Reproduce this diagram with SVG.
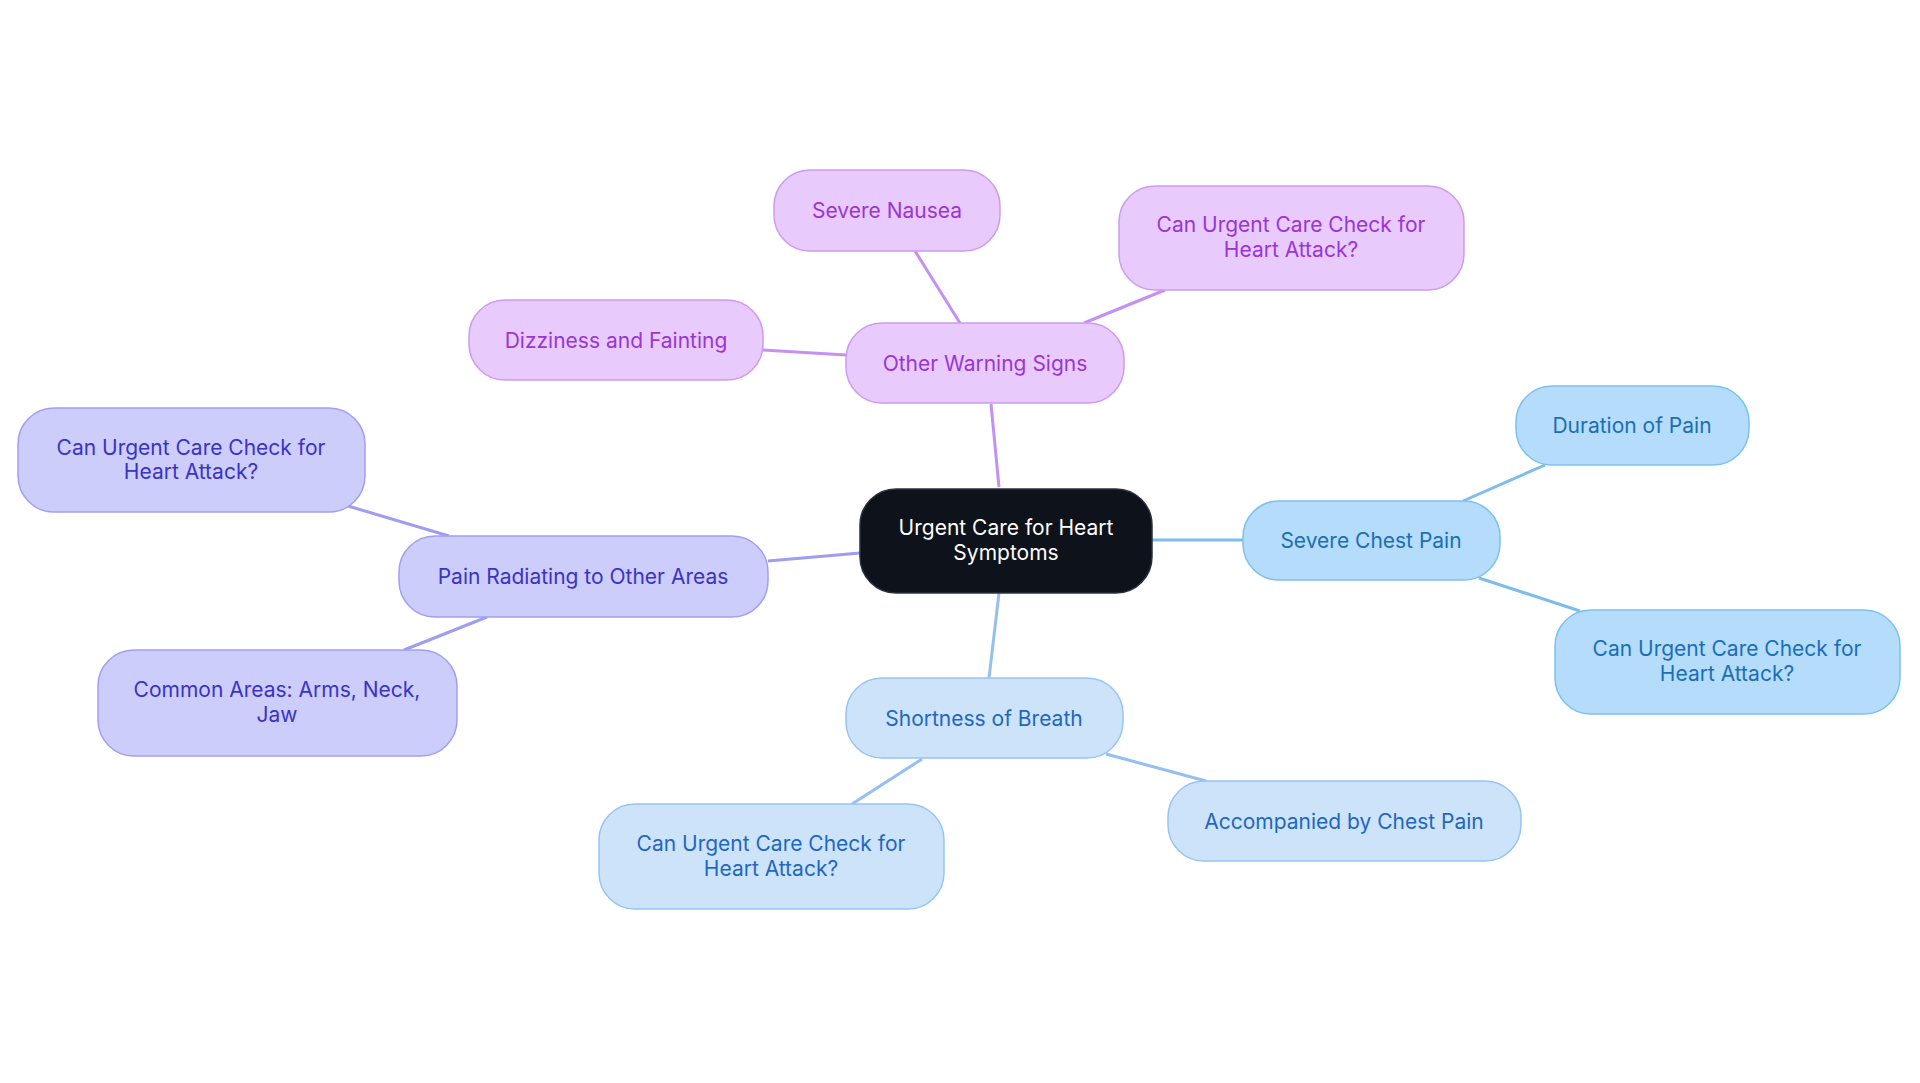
<svg xmlns="http://www.w3.org/2000/svg" width="1920" height="1083" viewBox="0 0 1920 1083">
<style>
text{font-family:Inter,"Noto Sans",sans-serif;font-size:21px;text-anchor:middle;dominant-baseline:central}
.e{stroke-width:3;fill:none}
.c rect{fill:#0d121b;stroke:#2a3040;stroke-width:1.5}.c text{fill:#fff}
.b rect{fill:#b5dcfb;stroke:#7cc0f0;stroke-width:1.5}.b text{fill:#1a6fb5}
.l rect{fill:#cde3fa;stroke:#98c4f2;stroke-width:1.5}.l text{fill:#1f67c0}
.v rect{fill:#cdcdfc;stroke:#a19ef2;stroke-width:1.5}.v text{fill:#3a33c4}
.p rect{fill:#e8cafc;stroke:#cc9af2;stroke-width:1.5}.p text{fill:#9a35d4}
</style>
<rect width="1920" height="1083" fill="#fff"/>
<g id="connectors">
<path class="e" stroke="#c491f2" d="M999,487L991,404M960,323L915,251M1084,323L1165,290M846,355L763,350"/>
<path class="e" stroke="#7cbdee" d="M1152,540L1243,540M1463,501L1545,465M1479,578L1580,611"/>
<path class="e" stroke="#94bff0" d="M999,593L989,678M1106,754L1206,781M922,759L852,804"/>
<path class="e" stroke="#a09cf0" d="M860,553L768,561M449,536L348,506M487,617L404,650"/>
</g>
<g id="center" class="c"><rect x="860" y="489" width="292" height="104" rx="36"/><text x="1006" y="527">Urgent Care for Heart</text><text x="1006" y="552">Symptoms</text></g>
<g id="chest" class="b"><rect x="1243" y="501" width="257" height="79" rx="36"/><text x="1371" y="540">Severe Chest Pain</text></g>
<g id="duration" class="b"><rect x="1516" y="386" width="233" height="79" rx="36"/><text x="1632" y="425">Duration of Pain</text></g>
<g id="chest-check" class="b"><rect x="1555" y="610" width="345" height="104" rx="36"/><text x="1727" y="648">Can Urgent Care Check for</text><text x="1727" y="673">Heart Attack?</text></g>
<g id="breath" class="l"><rect x="846" y="678" width="277" height="80" rx="36"/><text x="984" y="718">Shortness of Breath</text></g>
<g id="accomp" class="l"><rect x="1168" y="781" width="353" height="80" rx="36"/><text x="1344" y="821">Accompanied by Chest Pain</text></g>
<g id="breath-check" class="l"><rect x="599" y="804" width="345" height="105" rx="36"/><text x="771" y="843">Can Urgent Care Check for</text><text x="771" y="868">Heart Attack?</text></g>
<g id="radiating" class="v"><rect x="399" y="536" width="369" height="81" rx="36"/><text x="583" y="576">Pain Radiating to Other Areas</text></g>
<g id="rad-check" class="v"><rect x="18" y="408" width="347" height="104" rx="36"/><text x="191" y="447">Can Urgent Care Check for</text><text x="191" y="471">Heart Attack?</text></g>
<g id="common" class="v"><rect x="98" y="650" width="359" height="106" rx="36"/><text x="277" y="689">Common Areas: Arms, Neck,</text><text x="277" y="714">Jaw</text></g>
<g id="other" class="p"><rect x="846" y="323" width="278" height="80" rx="36"/><text x="985" y="363">Other Warning Signs</text></g>
<g id="nausea" class="p"><rect x="774" y="170" width="226" height="81" rx="36"/><text x="887" y="210">Severe Nausea</text></g>
<g id="other-check" class="p"><rect x="1119" y="186" width="345" height="104" rx="36"/><text x="1291" y="224">Can Urgent Care Check for</text><text x="1291" y="249">Heart Attack?</text></g>
<g id="dizzy" class="p"><rect x="469" y="300" width="294" height="80" rx="36"/><text x="616" y="340">Dizziness and Fainting</text></g>
</svg>
